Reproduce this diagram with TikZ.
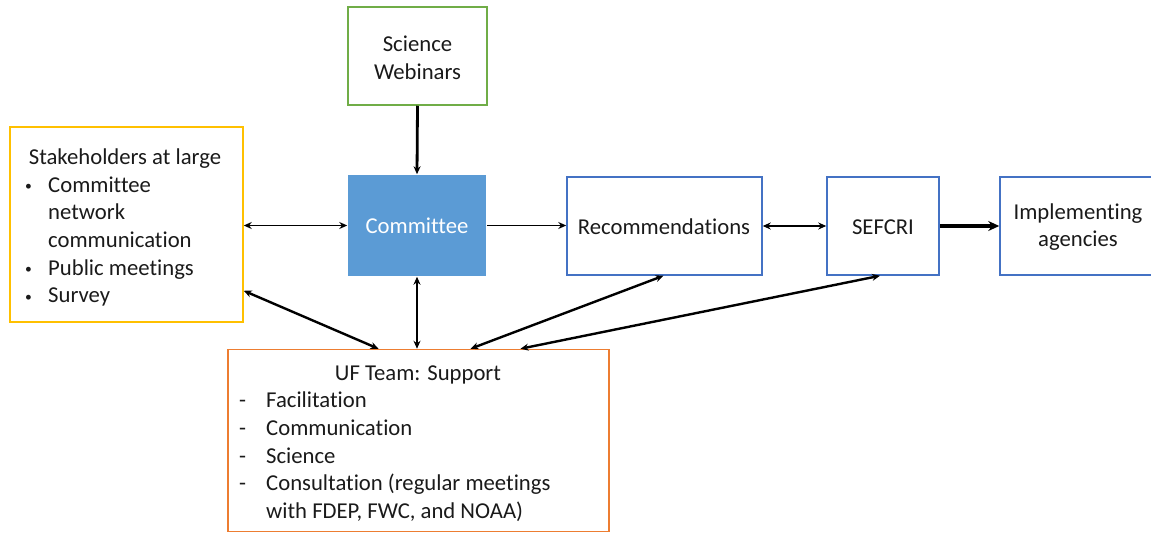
\documentclass[tikz,border=0pt]{standalone}
\usepackage{fontspec}
\setmainfont[Ligatures=NoCommon]{Carlito}
\usetikzlibrary{arrows.meta}
\definecolor{cgreen}{HTML}{70AD47}
\definecolor{cyellow}{HTML}{FFC000}
\definecolor{cblue}{HTML}{5B9BD5}
\definecolor{cdblue}{HTML}{4472C4}
\definecolor{corange}{HTML}{ED7D31}
\definecolor{ctext}{HTML}{1A1A1A}
\newcommand{\mybul}{\raisebox{1.5pt}{\scalebox{0.6}{•}}}
\begin{document}
\begin{tikzpicture}[x=1pt,y=-1pt,
  box/.style={draw, line width=1.5pt, inner sep=0pt},
  txt/.style={font=\fontsize{22.7}{27.7}\selectfont, inner sep=0pt, text=ctext},
  tip/.tip={Stealth[length=8pt,width=7pt]},
  bigtip/.tip={Stealth[length=11pt,width=10pt]},
  arr/.style={-tip},
  barr/.style={-bigtip},
  darr/.style={tip-tip}]
\useasboundingbox (0,0) rectangle (1151,533);

% boxes
\node[box, draw=cgreen, minimum width=139pt, minimum height=98pt] (web) at (417.5,56) {};
\node[box, draw=cyellow, minimum width=233pt, minimum height=195pt] (stake) at (126.5,224.5) {};
\node[box, draw=none, fill=cblue, minimum width=138pt, minimum height=101pt] (com) at (417,225.5) {};
\node[box, draw=cdblue, minimum width=195pt, minimum height=98pt] (recs) at (664.5,226) {};
\node[box, draw=cdblue, minimum width=112pt, minimum height=98pt] (sef) at (883,226) {};
\node[box, draw=cdblue, minimum width=170pt, minimum height=98pt] (impl) at (1085,226) {};
\node[box, draw=corange, minimum width=381pt, minimum height=182pt] (uf) at (418.5,440.5) {};

% texts
\node[txt, align=center] (webt) at (417.5,58) {Science\\Webinars};
\node[txt, text=white] (comt) at (417,226) {Committee};
\node[txt] (recst) at (664,227) {Recommendations};
\node[txt] (seft) at (883,227) {SEFCRI};
\node[txt, align=center] (implt) at (1078,227) {Implementing\\agencies};

\node[txt, anchor=base] (st0) at (125,164) {Stakeholders at large};
\node[txt, anchor=base west] (sb1) at (25,192) {\mybul};
\node[txt, anchor=base west] (st1) at (48,192) {Committee};
\node[txt, anchor=base west] (st2) at (48,219.7) {network};
\node[txt, anchor=base west] (st3) at (48,247.4) {communication};
\node[txt, anchor=base west] (sb4) at (25,275.1) {\mybul};
\node[txt, anchor=base west] (st4) at (48,275.1) {Public meetings};
\node[txt, anchor=base west] (sb5) at (25,302.8) {\mybul};
\node[txt, anchor=base west] (st5) at (48,302.8) {Survey};

\node[txt, anchor=base] (uf0) at (418,380) {UF Team: Support};
\node[txt, anchor=base west] (ud1) at (239,407.7) {-};
\node[txt, anchor=base west] (uf1) at (266,407.7) {Facilitation};
\node[txt, anchor=base west] (ud2) at (239,435.4) {-};
\node[txt, anchor=base west] (uf2) at (266,435.4) {Communication};
\node[txt, anchor=base west] (ud3) at (239,463.1) {-};
\node[txt, anchor=base west] (uf3) at (266,463.1) {Science};
\node[txt, anchor=base west] (ud4) at (239,490.8) {-};
\node[txt, anchor=base west] (uf4) at (266,490.8) {Consultation (regular meetings};
\node[txt, anchor=base west] (uf5) at (266,518.5) {with FDEP, FWC, and NOAA)};

% connectors
\draw[arr, line width=2.8pt] (web.south) -- (com.north);
\draw[darr, line width=1.9pt] (stake.east |- com.west) -- (com.west);
\draw[arr, line width=1.9pt] (com.east) -- (com.east -| recs.west);
\draw[darr, line width=2.8pt] (recs.east) -- (sef.west);
\draw[barr, line width=3.8pt] (sef.east) -- (impl.west);
\draw[darr, line width=2.4pt] ([yshift=32pt]stake.south east) -- ([xshift=-40pt]uf.north);
\draw[darr, line width=2.4pt] (com.south) -- (com.south |- uf.north);
\draw[darr, line width=2.4pt] ([xshift=-1pt]recs.south) -- ([xshift=52pt]uf.north);
\draw[darr, line width=2.4pt] ([xshift=-3pt]sef.south) -- ([xshift=102pt]uf.north);
\end{tikzpicture}
\end{document}
